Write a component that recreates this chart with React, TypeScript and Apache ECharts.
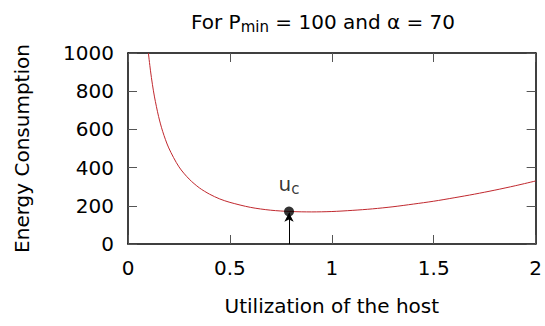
import React, { useEffect, useRef } from "react";
import * as echarts from "echarts";

const utilization = [0.1, 0.11, 0.12, 0.13, 0.15, 0.17, 0.2, 0.25, 0.3, 0.35, 0.4, 0.45, 0.5, 0.6, 0.7, 0.8, 0.9, 1.0, 1.1, 1.2, 1.3, 1.4, 1.5, 1.6, 1.7, 1.8, 1.9, 2.0];
const energy = [1000, 910, 834, 770, 668, 590, 503, 404, 340, 294, 261, 236, 218, 192, 177, 170, 168, 170, 176, 184, 195, 209, 224, 242, 261, 282, 305, 330];
const ucPoint = [0.79, 170];
const xTicks = [0, 0.5, 1, 1.5, 2];
const yTicks = [0, 200, 400, 600, 800, 1000];

const FONT = "DejaVu Sans";

export default function App() {
  const ref = useRef<HTMLDivElement>(null);
  useEffect(() => {
    if (!ref.current) return;
    const chart = echarts.init(ref.current, null, { renderer: "svg" });
    const axisCommon = {
      axisLine: { show: true, onZero: false, lineStyle: { color: "#000", width: 1.5 } },
      axisTick: { show: true, inside: true, length: 9, lineStyle: { color: "#555", width: 1 } },
      splitLine: { show: false },
    };
    chart.setOption({
      animation: false,
      backgroundColor: "#fff",
      textStyle: { fontFamily: FONT },
      title: {
        text: "For P{sub|min} = 100 and α = 70",
        left: 186,
        top: 4,
        textStyle: {
          fontFamily: FONT,
          fontSize: 20,
          fontWeight: "normal",
          color: "#000",
          rich: {
            sub: { fontFamily: FONT, fontSize: 15, verticalAlign: "bottom", padding: [10, 0, 0, 0] },
          },
        },
      },
      grid: { left: 128, right: 6, top: 53, bottom: 82 },
      xAxis: [
        {
          type: "value",
          min: 0,
          max: 2,
          interval: 0.5,
          position: "bottom",
          name: "Utilization of the host",
          nameLocation: "middle",
          nameGap: 52,
          nameTextStyle: { fontFamily: FONT, fontSize: 20, color: "#000" },
          axisLabel: {
            fontFamily: FONT,
            fontSize: 20,
            color: "#000",
            margin: 14,
            formatter: (v: number) => (xTicks.includes(v) ? String(v) : ""),
          },
          ...axisCommon,
        },
        {
          type: "value",
          min: 0,
          max: 2,
          interval: 0.5,
          position: "top",
          axisLabel: { show: false },
          ...axisCommon,
        },
      ],
      yAxis: [
        {
          type: "value",
          min: 0,
          max: 1000,
          interval: 200,
          position: "left",
          name: "Energy Consumption",
          nameLocation: "middle",
          nameGap: 96,
          nameTextStyle: { fontFamily: FONT, fontSize: 20, color: "#000" },
          axisLabel: {
            fontFamily: FONT,
            fontSize: 20,
            color: "#000",
            margin: 14,
            formatter: (v: number) => (yTicks.includes(v) ? String(v) : ""),
          },
          ...axisCommon,
        },
        {
          type: "value",
          min: 0,
          max: 1000,
          interval: 200,
          position: "right",
          axisLabel: { show: false },
          ...axisCommon,
        },
      ],
      series: [
        {
          type: "line",
          data: utilization.map((u, i) => [u, energy[i]]),
          smooth: 0.3,
          showSymbol: false,
          symbol: "none",
          lineStyle: { color: "#c0282e", width: 1 },
          clip: true,
          markLine: {
            silent: true,
            symbol: ["none", "arrow"],
            symbolSize: [7, 9],
            label: { show: false },
            lineStyle: { color: "#000", width: 1, type: "solid" },
            data: [[{ coord: [ucPoint[0], 0] }, { coord: [ucPoint[0], ucPoint[1] - 6] }]],
          },
        },
        {
          type: "scatter",
          data: [ucPoint],
          symbol: "circle",
          symbolSize: 10,
          itemStyle: { color: "#000" },
          label: {
            show: true,
            position: "top",
            distance: 10,
            formatter: "u{sub|c}",
            fontFamily: FONT,
            fontSize: 20,
            color: "#000",
            rich: {
              sub: { fontFamily: FONT, fontSize: 15, color: "#000", verticalAlign: "bottom", padding: [10, 0, 0, 0] },
            },
          },
          z: 5,
        },
      ],
    });
    return () => chart.dispose();
  }, []);
  return <div ref={ref} style={{ position: "fixed", left: 0, top: 0, width: 545, height: 326 }} />;
}
